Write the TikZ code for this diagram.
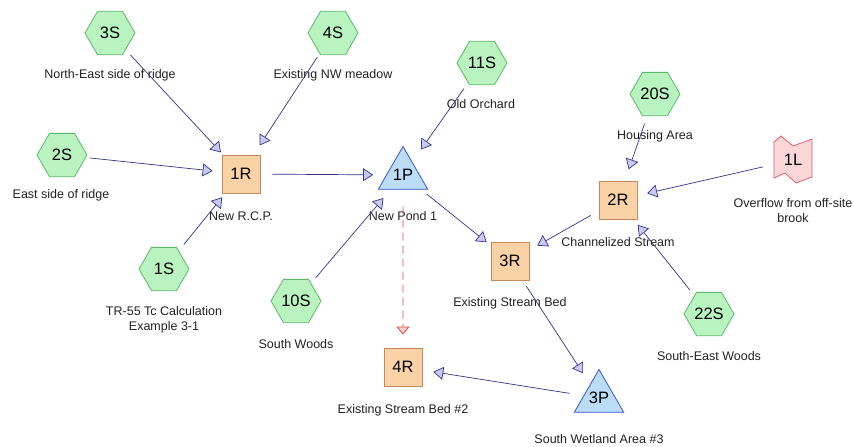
\documentclass[tikz,border=0pt]{standalone}
\usepackage{fontspec}
\setmainfont{Liberation Sans}
\usetikzlibrary{shapes.geometric,arrows.meta,calc}
\definecolor{hexfill}{HTML}{B9F3BF}
\definecolor{hexdraw}{HTML}{5DB86A}
\definecolor{sqfill}{HTML}{FAD2A6}
\definecolor{sqdraw}{HTML}{C08A5A}
\definecolor{trifill}{HTML}{BCDDF7}
\definecolor{tridraw}{HTML}{3556D0}
\definecolor{lfill}{HTML}{FBD6D8}
\definecolor{ldraw}{HTML}{E0606A}
\definecolor{edgec}{HTML}{34348A}
\definecolor{tipfill}{HTML}{C9C9F2}
\definecolor{txt}{HTML}{222222}
\definecolor{dred}{HTML}{E04848}
\definecolor{dtip}{HTML}{FBD0D0}
\begin{document}
\begin{tikzpicture}[x=1pt,y=-1pt,
 bigtxt/.style={font=\fontsize{16.5}{18}\selectfont, text=black},
 subc/.style={bigtxt, regular polygon, regular polygon sides=6, minimum size=50pt, inner sep=0pt, fill=hexfill, draw=hexdraw, line width=0.8pt},
 reach/.style={bigtxt, rectangle, minimum size=38pt, inner sep=0pt, fill=sqfill, draw=sqdraw, line width=0.8pt},
 pond/.style={bigtxt, regular polygon, regular polygon sides=3, minimum size=56pt, inner sep=0pt, fill=trifill, draw=tridraw, line width=0.8pt},
 link/.style={bigtxt, rectangle, minimum width=38pt, minimum height=42pt, inner sep=0pt},
 lbl/.style={font=\fontsize{12.5}{15}\selectfont, text=txt, align=center, inner sep=0pt},
 flow/.style={draw=edgec, line width=0.7pt, -{Triangle[length=10pt,width=13pt,fill=tipfill]}},
 dflow/.style={draw=dred, line width=0.8pt, dash pattern=on 8pt off 5pt, -{Triangle[length=8pt,width=13pt,fill=dtip]}}
]
\useasboundingbox (0,0) rectangle (854,447);
\fill[white] (0,0) rectangle (854,447);

% nodes
\node[subc] (3S) at (110,33) {3S};
\node[subc] (4S) at (333,33) {4S};
\node[subc] (2S) at (62,155) {2S};
\node[subc] (1S) at (164,269) {1S};
\node[subc] (10S) at (296,301) {10S};
\node[subc] (11S) at (482,63) {11S};
\node[subc] (20S) at (655,94) {20S};
\node[subc] (22S) at (709,314) {22S};
\node[reach] (1R) at (241,174) {1R};
\node[reach] (2R) at (618,200) {2R};
\node[reach] (3R) at (510,261) {3R};
\node[reach] (4R) at (403,367) {4R};
\node[pond] (1P) at (403,175) {1P};
\node[pond] (3P) at (599,398) {3P};
\node[link] (1L) at (793,160) {};
\filldraw[fill=lfill, draw=ldraw, line width=0.8pt]
  ($(1L)+(-19,-18)$) -- ($(1L)+(-12,-24)$) -- ($(1L)+(0,-14)$) -- ($(1L)+(19,-21)$)
  -- ($(1L)+(19,17)$) -- ($(1L)+(3,23)$) -- ($(1L)+(-8,13)$) -- ($(1L)+(-19,18)$) -- cycle;
\node[bigtxt] (1Lt) at (1L) {1L};

% labels
\node[lbl] (l3S) at (110,75) {North-East side of ridge};
\node[lbl] (l4S) at (333,75) {Existing NW meadow};
\node[lbl] (l2S) at (61,195) {East side of ridge};
\node[lbl] (l1R) at (241,216) {New R.C.P.};
\node[lbl] (l1P) at (403,216) {New Pond 1};
\node[lbl] (l11S) at (481,104) {Old Orchard};
\node[lbl] (l20S) at (655,136) {Housing Area};
\node[lbl] (l1L) at (793,211) {Overflow from off-site\\brook};
\node[lbl] (l2R) at (618,242) {Channelized Stream};
\node[lbl] (l3R) at (510,303) {Existing Stream Bed};
\node[lbl] (l22S) at (709,356) {South-East Woods};
\node[lbl] (l3P) at (599,439) {South Wetland Area \#3};
\node[lbl] (l4R) at (403,410) {Existing Stream Bed \#2};
\node[lbl] (l1S) at (164,320) {TR-55 Tc Calculation\\Example 3-1};
\node[lbl] (l10S) at (296,344) {South Woods};

% connectors
\draw[flow, shorten <=7pt, shorten >=3pt] (3S) -- (1R);
\draw[flow, shorten <=4pt, shorten >=11pt] (4S) -- (1R);
\draw[flow, shorten <=4pt, shorten >=9pt] (2S) -- (1R);
\draw[flow, shorten <=8pt, shorten >=5pt] (1S) -- (1R);
\draw[flow, shorten <=12pt, shorten >=13pt] (1R) -- (1P);
\draw[flow, shorten <=7pt, shorten >=11pt] (10S) -- (1P);
\draw[flow, shorten <=7pt, shorten >=15pt] (11S) -- (1P);
\draw[flow, shorten <=7pt, shorten >=5pt] (1P) -- (3R);
\draw[dflow, shorten <=17pt, shorten >=13pt] (1P) -- (4R);
\draw[flow, shorten <=9pt, shorten >=9pt] (2R) -- (3R);
\draw[flow, shorten <=8pt, shorten >=12pt] (20S) -- (2R);
\draw[flow, shorten <=11pt, shorten >=10pt] (1L) -- (2R);
\draw[flow, shorten <=7pt, shorten >=7pt] (22S) -- (2R);
\draw[flow, shorten <=7pt, shorten >=13pt] (3R) -- (3P);
\draw[flow, shorten <=14pt, shorten >=11pt] (3P) -- (4R);
\end{tikzpicture}
\end{document}
